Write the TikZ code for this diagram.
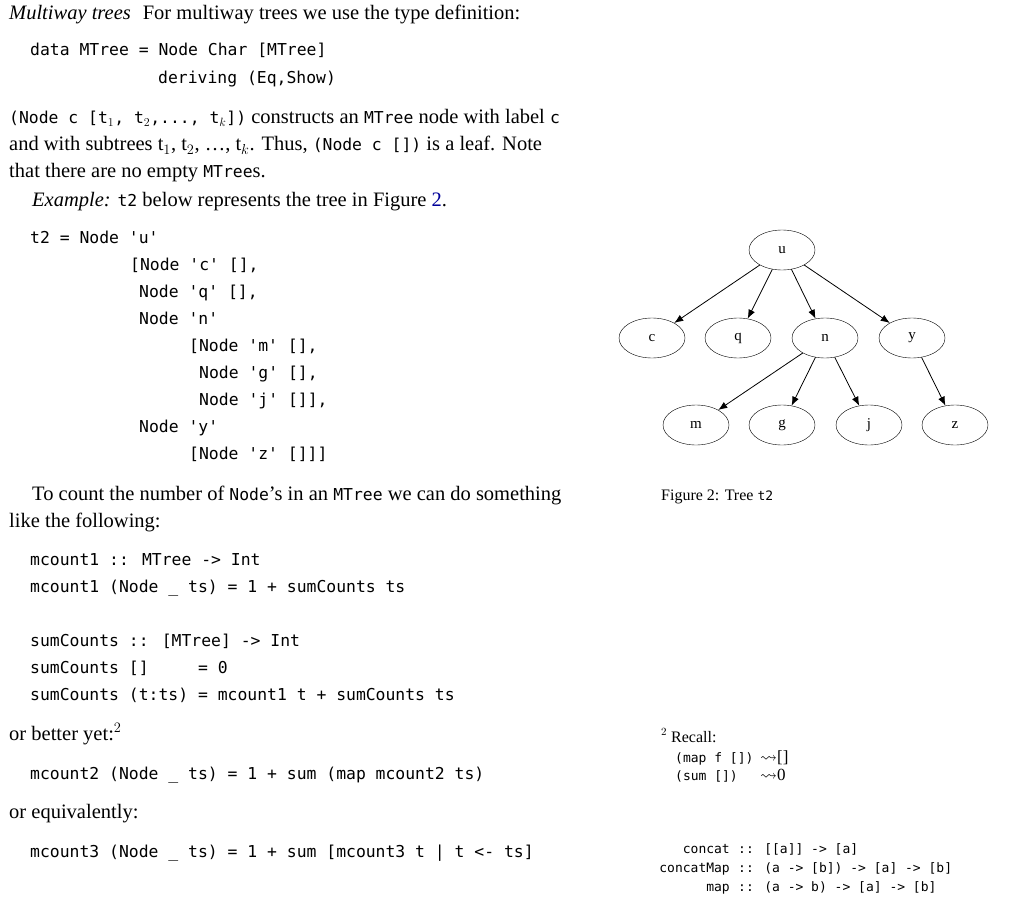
\documentclass[tikz,border=0pt]{standalone}
\usepackage{amssymb}
\usepackage{fontspec}
\setmainfont{Liberation Serif}
\newfontfamily\mono{DejaVu Sans Mono}
\usetikzlibrary{shapes.geometric,arrows.meta}
\tikzset{
  t/.style={anchor=base west,inner sep=0pt,font=\fontsize{20.5}{22}\selectfont},
  m/.style={anchor=base west,inner sep=0pt,font=\mono\fontsize{16.4}{18}\selectfont},
  fm/.style={anchor=base west,inner sep=0pt,font=\mono\fontsize{13}{15}\selectfont},
  fe/.style={anchor=base east,inner sep=0pt,font=\mono\fontsize{13}{15}\selectfont},
  tn/.style={ellipse,draw,minimum width=66pt,minimum height=40pt,inner sep=0pt,font=\fontsize{15}{16}\selectfont},
  ed/.style={-{Latex[length=9pt,width=7pt]},thick}
}
\begin{document}
\begin{tikzpicture}[x=1pt,y=-1pt]
\useasboundingbox (0,0) rectangle (1024,912);
\node[t] (l1) at (9,20) {\textit{Multiway trees}\hspace{12pt}For multiway trees we use the type definition:};
\node[m] (d1) at (30,56) {data MTree = Node Char [MTree]};
\node[m] (d2) at (158,84) {deriving (Eq,Show)};
\node[t] (p1) at (9,124) {{\mono\fontsize{16.4}{18}\selectfont (Node c [t$_1$, t$_2$,..., t$_k$])} constructs an {\mono\fontsize{16.4}{18}\selectfont MTree} node with label {\mono\fontsize{16.4}{18}\selectfont c}};
\node[t] (p2) at (9,151) {and with subtrees t$_1$, t$_2$, \ldots, t$_k$. Thus, {\mono\fontsize{16.4}{18}\selectfont (Node c [])} is a leaf. Note};
\node[t] (p3) at (9,178) {that there are no empty {\mono\fontsize{16.4}{18}\selectfont MTree}s.};
\node[t] (p4) at (32,206) {\textit{Example:} {\mono\fontsize{16.4}{18}\selectfont t2} below represents the tree in Figure \textcolor{blue!60!black}{2}.};
\foreach \y/\x/\s in {243/30/{t2 = Node 'u'},270/130/{[Node 'c' [],},297/139/{Node 'q' [],},324/139/{Node 'n'},351/189/{[Node 'm' [],},378/199/{Node 'g' [],},405/199/{Node 'j' []],},432/139/{Node 'y'},459/189/{[Node 'z' []]]}}
  \node[m] at (\x,\y) {\s};
\node[t] (c1) at (32,500) {To count the number of {\mono\fontsize{16.4}{18}\selectfont Node}'s in an {\mono\fontsize{16.4}{18}\selectfont MTree} we can do something};
\node[t] (c2) at (9,527) {like the following:};
\node[m] (k1) at (30,565) {mcount1 :: MTree -> Int};
\node[m] (k2) at (30,592) {mcount1 (Node \_ ts) = 1 + sumCounts ts};
\node[m] (k3) at (30,646) {sumCounts :: [MTree] -> Int};
\node[m] (k4) at (30,673) {sumCounts []\ \ \ \ \ = 0};
\node[m] (k5) at (30,700) {sumCounts (t:ts) = mcount1 t + sumCounts ts};
\node[t] (b1) at (9,740) {or better yet:$^{2}$};
\node[m] (k6) at (30,779) {mcount2 (Node \_ ts) = 1 + sum (map mcount2 ts)};
\node[t] (b2) at (9,818) {or equivalently:};
\node[m] (k7) at (30,857) {mcount3 (Node \_ ts) = 1 + sum [mcount3 t | t <- ts]};
% figure
\node[tn] (u) at (782,250) {u};
\node[tn] (c) at (652,338) {c};
\node[tn] (q) at (738,338) {q};
\node[tn] (n) at (825,338) {n};
\node[tn] (y) at (912,338) {y};
\node[tn] (mm) at (696,425) {m};
\node[tn] (g) at (782,425) {g};
\node[tn] (j) at (869,425) {j};
\node[tn] (z) at (955,425) {z};
\foreach \a/\b in {u/c,u/q,u/n,u/y,n/mm,n/g,n/j,y/z} \draw[ed] (\a) -- (\b);
\node[anchor=base west,inner sep=0pt,font=\fontsize{16}{18}\selectfont] (cap) at (661,500) {Figure 2: Tree {\mono\fontsize{13}{15}\selectfont t2}};
% footnote
\node[anchor=base west,inner sep=0pt,font=\fontsize{16}{18}\selectfont] (r0) at (661,742) {$^{2}$ Recall:};
\node[fm] (r1) at (675,762) {(map f [])};
\node[fm] (r2) at (675,780) {(sum [])};
\node[anchor=base west,inner sep=0pt,font=\fontsize{17}{18}\selectfont] (r3) at (760,762) {$\leadsto$[]};
\node[anchor=base west,inner sep=0pt,font=\fontsize{17}{18}\selectfont] (r4) at (760,780) {$\leadsto$0};
\node[fe] (s1) at (730,853) {concat};
\node[fe] (s2) at (730,872) {concatMap};
\node[fe] (s3) at (730,891) {map};
\node[fm] (s4) at (738,853) {:: [[a]] -> [a]};
\node[fm] (s5) at (738,872) {:: (a -> [b]) -> [a] -> [b]};
\node[fm] (s6) at (738,891) {:: (a -> b) -> [a] -> [b]};
\end{tikzpicture}
\end{document}
